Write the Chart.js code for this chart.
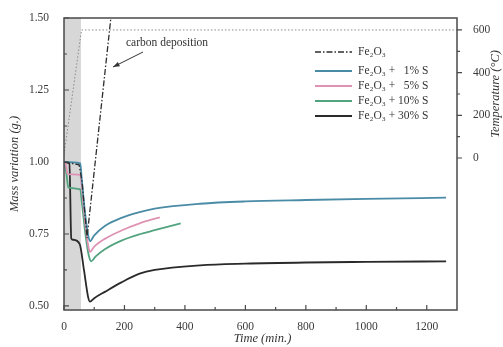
<!DOCTYPE html>
<html>
<head>
<meta charset="utf-8">
<script src="https://cdn.jsdelivr.net/npm/chart.js@4.4.0/dist/chart.umd.min.js"></script>
<style>
  html, body { margin: 0; padding: 0; background: #fff; }
</style>
</head>
<body>
<canvas id="massChart" width="503" height="347"></canvas>
<script>
/* ---- data ---- */
const timeTicks = [0, 200, 400, 600, 800, 1000, 1200];
const massTicks = [0.50, 0.75, 1.00, 1.25, 1.50];
const tempTicks = [0, 200, 400, 600];

const seriesNames = ['Fe₂O₃', 'Fe₂O₃ +   1% S', 'Fe₂O₃ +   5% S', 'Fe₂O₃ + 10% S', 'Fe₂O₃ + 30% S'];

const tFe = [0, 50, 60, 76, 170];
const mFe = [1.00, 0.99, 0.93, 0.736, 1.645];

const t1 = [0, 54, 58, 70, 80, 86, 100, 135, 190, 250, 300, 450, 600, 800, 1000, 1264];
const m1 = [1.00, 0.995, 0.95, 0.82, 0.745, 0.725, 0.745, 0.778, 0.806, 0.826, 0.838, 0.855, 0.863, 0.868, 0.872, 0.876];

const t5 = [0, 6, 12, 54, 58, 70, 80, 86, 100, 135, 190, 250, 317];
const m5 = [1.00, 0.99, 0.958, 0.955, 0.92, 0.79, 0.71, 0.688, 0.706, 0.733, 0.762, 0.787, 0.808];

const t10 = [0, 8, 14, 54, 58, 72, 82, 90, 105, 135, 190, 250, 300, 386];
const m10 = [1.00, 0.96, 0.912, 0.905, 0.87, 0.74, 0.675, 0.655, 0.672, 0.697, 0.727, 0.749, 0.763, 0.787];

const t30 = [0, 18, 24, 30, 52, 66, 80, 86, 100, 135, 190, 250, 300, 450, 600, 800, 1000, 1264];
const m30 = [1.00, 0.995, 0.735, 0.73, 0.715, 0.625, 0.53, 0.515, 0.527, 0.549, 0.582, 0.612, 0.625, 0.641, 0.647, 0.651, 0.653, 0.655];

const tTemp = [0, 58, 1300];
const temp = [15, 600, 600];

const shadeRange = [0, 56];          // grey band, minutes
const noteText = 'carbon deposition';

const SERIF = '"Liberation Serif", "DejaVu Serif", serif';

const pts = (xs, ys) => xs.map((x, i) => ({ x, y: ys[i] }));

/* ---- decorations: band, frame, inward ticks, titles, legend, note ---- */
const deco = {
  id: 'deco',
  beforeDatasetsDraw(chart) {
    const { ctx, chartArea: a, scales: { x } } = chart;
    const x0 = x.getPixelForValue(shadeRange[0]);
    const x1 = x.getPixelForValue(shadeRange[1]);
    ctx.save();
    ctx.fillStyle = '#d7d7d7';
    ctx.fillRect(x0, a.top, x1 - x0, a.bottom - a.top);
    ctx.restore();
  },
  afterDraw(chart) {
    const { ctx, chartArea: a, scales: { x, y, y2 } } = chart;
    const mids = arr => arr.slice(1).map((v, i) => (v + arr[i]) / 2);
    ctx.save();
    ctx.strokeStyle = '#4a4a4a';
    ctx.lineWidth = 1.5;
    ctx.strokeRect(a.left, a.top, a.right - a.left, a.bottom - a.top);

    ctx.lineWidth = 1.2;
    ctx.beginPath();
    massTicks.forEach(v => { const p = y.getPixelForValue(v); ctx.moveTo(a.left, p); ctx.lineTo(a.left + 5, p); });
    mids(massTicks).forEach(v => { const p = y.getPixelForValue(v); ctx.moveTo(a.left, p); ctx.lineTo(a.left + 3, p); });
    timeTicks.forEach(v => { const p = x.getPixelForValue(v); ctx.moveTo(p, a.bottom); ctx.lineTo(p, a.bottom - 5); });
    mids(timeTicks.concat([1400])).forEach(v => { const p = x.getPixelForValue(v); if (p < a.right - 2) { ctx.moveTo(p, a.bottom); ctx.lineTo(p, a.bottom - 3); } });
    tempTicks.forEach(v => { const p = y2.getPixelForValue(v); ctx.moveTo(a.right, p); ctx.lineTo(a.right + 5, p); });
    mids(tempTicks).forEach(v => { const p = y2.getPixelForValue(v); ctx.moveTo(a.right, p); ctx.lineTo(a.right + 3, p); });
    ctx.stroke();

    // axis titles
    ctx.fillStyle = '#333';
    ctx.font = 'italic 12.5px ' + SERIF;
    ctx.textAlign = 'center';
    ctx.textBaseline = 'middle';
    ctx.fillText('Time (min.)', (a.left + a.right) / 2 + 2, 339);
    ctx.save();
    ctx.translate(15, (a.top + a.bottom) / 2);
    ctx.rotate(-Math.PI / 2);
    ctx.fillText('Mass variation (g.)', 0, 0);
    ctx.restore();
    ctx.save();
    ctx.translate(496, (y2.getPixelForValue(0) + y2.getPixelForValue(600)) / 2);
    ctx.rotate(-Math.PI / 2);
    ctx.fillText('Temperature (°C)', 0, 0);
    ctx.restore();

    // legend
    const rows = [52, 71, 86, 101, 116];
    ctx.font = '11.5px ' + SERIF;
    ctx.textAlign = 'left';
    chart.data.datasets.slice(0, 5).forEach((ds, i) => {
      ctx.save();
      ctx.strokeStyle = ds.borderColor;
      ctx.lineWidth = ds.borderWidth;
      ctx.setLineDash(ds.borderDash || []);
      ctx.beginPath();
      ctx.moveTo(315, rows[i]);
      ctx.lineTo(352, rows[i]);
      ctx.stroke();
      ctx.restore();
      ctx.fillStyle = '#333';
      ctx.fillText(ds.label, 358, rows[i]);
    });

    // carbon deposition note with arrow
    ctx.font = '11.5px ' + SERIF;
    ctx.fillText(noteText, 126, 43);
    const tx = 143, ty = 52, hx = 113, hy = 67;
    ctx.strokeStyle = '#333';
    ctx.lineWidth = 1;
    ctx.beginPath(); ctx.moveTo(tx, ty); ctx.lineTo(hx, hy); ctx.stroke();
    const ang = Math.atan2(hy - ty, hx - tx);
    ctx.fillStyle = '#333';
    ctx.beginPath();
    ctx.moveTo(hx, hy);
    ctx.lineTo(hx - 7 * Math.cos(ang - 0.35), hy - 7 * Math.sin(ang - 0.35));
    ctx.lineTo(hx - 7 * Math.cos(ang + 0.35), hy - 7 * Math.sin(ang + 0.35));
    ctx.closePath();
    ctx.fill();
    ctx.restore();
  }
};

const line = (label, data, color, extra) => Object.assign({
  label, data, borderColor: color, borderWidth: 1.8, pointRadius: 0,
  fill: false, cubicInterpolationMode: 'monotone', yAxisID: 'y'
}, extra || {});

new Chart(document.getElementById('massChart'), {
  type: 'line',
  data: {
    datasets: [
      line(seriesNames[0], pts(tFe, mFe), '#2e2e2e', { borderWidth: 1.3, borderDash: [6, 2, 1.5, 2], cubicInterpolationMode: 'default', tension: 0 }),
      line(seriesNames[1], pts(t1, m1), '#4a8ba6'),
      line(seriesNames[2], pts(t5, m5), '#df93b4'),
      line(seriesNames[3], pts(t10, m10), '#52a37f'),
      line(seriesNames[4], pts(t30, m30), '#2a2a2a'),
      line('Temperature', pts(tTemp, temp), '#8a8a8a', { borderWidth: 1, borderDash: [1.5, 2], yAxisID: 'y2', cubicInterpolationMode: 'default', tension: 0 })
    ]
  },
  options: {
    responsive: false,
    animation: false,
    layout: { padding: { top: 18, left: 0, right: 0, bottom: 0 } },
    plugins: { legend: { display: false }, tooltip: { enabled: false } },
    scales: {
      x: {
        type: 'linear', min: 0, max: 1300,
        grid: { display: false }, border: { display: false },
        afterBuildTicks: s => { s.ticks = timeTicks.map(v => ({ value: v })); },
        afterFit: s => { s.height = 37; },
        ticks: { padding: 2, color: '#3a3a3a', font: { family: SERIF, size: 11.5 }, maxRotation: 0, callback: v => String(v) }
      },
      y: {
        position: 'left', min: 0.486, max: 1.5,
        grid: { display: false }, border: { display: false },
        afterBuildTicks: s => { s.ticks = massTicks.map(v => ({ value: v })); },
        afterFit: s => { s.width = 64; },
        ticks: { padding: 7, color: '#3a3a3a', font: { family: SERIF, size: 11.5 }, callback: v => v.toFixed(2) }
      },
      y2: {
        position: 'right', min: -712, max: 656,
        grid: { display: false }, border: { display: false },
        afterBuildTicks: s => { s.ticks = tempTicks.map(v => ({ value: v })); },
        afterFit: s => { s.width = 46; },
        ticks: { padding: 8, color: '#3a3a3a', font: { family: SERIF, size: 11.5 } }
      }
    }
  },
  plugins: [deco]
});
</script>
</body>
</html>
